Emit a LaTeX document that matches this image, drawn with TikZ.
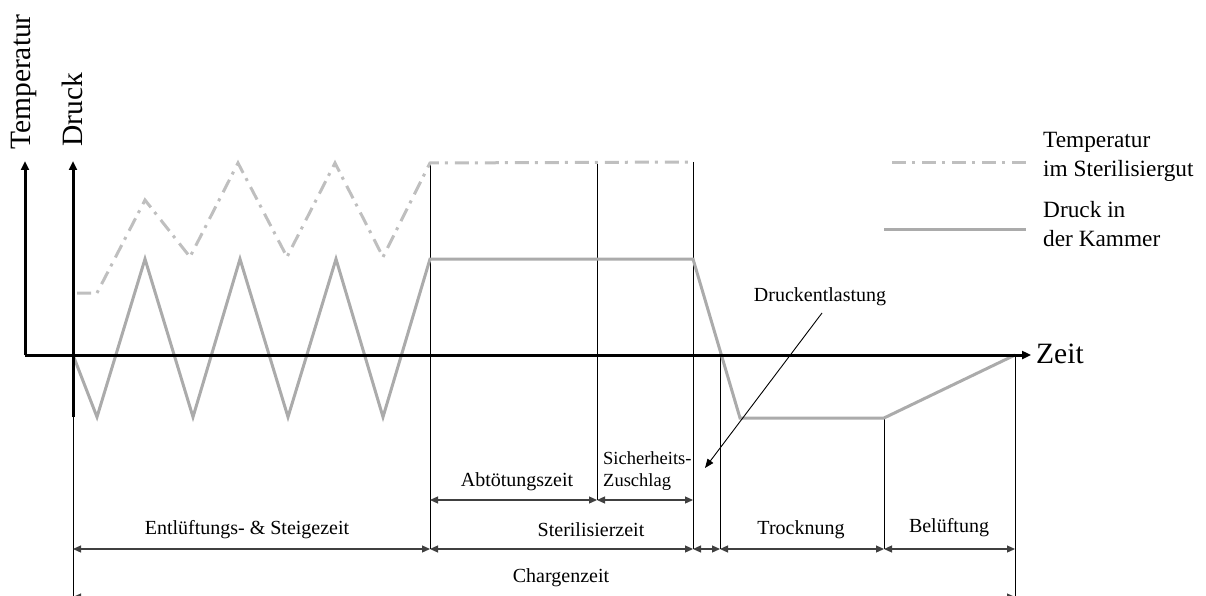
\documentclass[tikz,border=0pt]{standalone}
\usepackage{fontspec}
\setmainfont{Liberation Serif}
\usetikzlibrary{arrows.meta}
\begin{document}
\begin{tikzpicture}[x=1pt,y=-1pt,
  axis/.style={line width=3pt,-{Triangle[length=9pt,width=8pt]}},
  guide/.style={line width=0.9pt,black},
  dim/.style={line width=1.2pt,draw=black!75,{Triangle[length=8pt,width=7pt]}-{Triangle[length=8pt,width=7pt]}},
  press/.style={line width=3pt,draw=black!33,line join=miter},
  temp/.style={line width=3pt,draw=black!25,dash pattern=on 14pt off 6pt on 3pt off 7pt},
  big/.style={inner sep=0pt,font=\fontsize{29.5}{32}\selectfont},
  leg/.style={inner sep=0pt,align=left,font=\fontsize{23.3}{29.5}\selectfont},
  lbl/.style={inner sep=0pt,font=\fontsize{20}{24}\selectfont},
  lblz/.style={inner sep=0pt,align=left,font=\fontsize{18.5}{22}\selectfont}]
\useasboundingbox (0,0) rectangle (1206,596);
% key coordinates
\coordinate (O) at (25,355);
\coordinate (tTop) at (25,161);
\coordinate (dBot) at (73,417);
\coordinate (dTop) at (73,161);
\coordinate (xEnd) at (1031,355);
% guide lines
\draw[guide] (73,417) -- (73,596);
\draw[guide] (430,162) -- (430,549);
\draw[guide] (597,162) -- (597,500);
\draw[guide] (693,162) -- (693,549);
\draw[guide] (720,355) -- (720,549);
\draw[guide] (884,418) -- (884,549);
\draw[guide] (1015,355) -- (1015,596);
% temperature curve
\draw[temp] (77,293) -- (97,293) -- (145,200) -- (190,257) -- (238,163) -- (287,257) -- (335,163) -- (383,257) -- (430,163) -- (693,162);
% pressure curve
\draw[press] (73,355) -- (97,417) -- (145,259) -- (193,417) -- (240,259) -- (288,417) -- (336,259) -- (383,417) -- (430,259) -- (693,259) -- (740,418) -- (884,418) -- (1015,355);
% axes
\draw[axis] (O) -- (tTop);
\draw[axis] (dBot) -- (dTop);
\draw[axis] (O) -- (xEnd);
\node[big,rotate=90] (tl) at (24,82) {Temperatur};
\node[big,rotate=90] (dl) at (72,110) {Druck};
\node[big,anchor=west] (zl) at (1036,354) {Zeit};
% legend
\draw[temp] (892,163) -- (1026,163);
\draw[press] (884,229) -- (1026,229);
\node[leg,anchor=west] (lt) at (1043,157) {Temperatur\\im Sterilisiergut};
\node[leg,anchor=west] (lp) at (1043,224) {Druck in\\der Kammer};
% Druckentlastung
\node[lbl] (de) at (820,297) {Druckentlastung};
\coordinate (deS) at (822,313);
\coordinate (deT) at (705,468);
\draw[line width=0.9pt,-{Triangle[length=9pt,width=7pt]}] (deS) -- (deT);
% dimension arrows
\coordinate (a1) at (430,500); \coordinate (a2) at (597,500); \coordinate (a3) at (693,500);
\draw[dim] (a1) -- (a2);
\draw[dim] (a2) -- (a3);
\node[lbl] (abt) at (517,482) {Abtötungszeit};
\node[lblz,anchor=west] (sz) at (603,471) {Sicherheits-\\Zuschlag};
\coordinate (b0) at (73,549); \coordinate (b1) at (430,549); \coordinate (b2) at (693,549);
\coordinate (b3) at (720,549); \coordinate (b4) at (884,549); \coordinate (b5) at (1015,549);
\draw[dim] (b0) -- (b1);
\draw[dim] (b1) -- (b2);
\draw[dim] (b2) -- (b3);
\draw[dim] (b3) -- (b4);
\draw[dim] (b4) -- (b5);
\node[lbl] (ent) at (247,530) {Entlüftungs- \& Steigezeit};
\node[lbl] (ster) at (591,530) {Sterilisierzeit};
\node[lbl] (tro) at (801,530) {Trocknung};
\node[lbl] (bel) at (949,528) {Belüftung};
\coordinate (c0) at (73,597); \coordinate (c1) at (1015,597);
\draw[dim] (c0) -- (c1);
\node[lbl] (ch) at (561,578) {Chargenzeit};
\end{tikzpicture}
\end{document}
